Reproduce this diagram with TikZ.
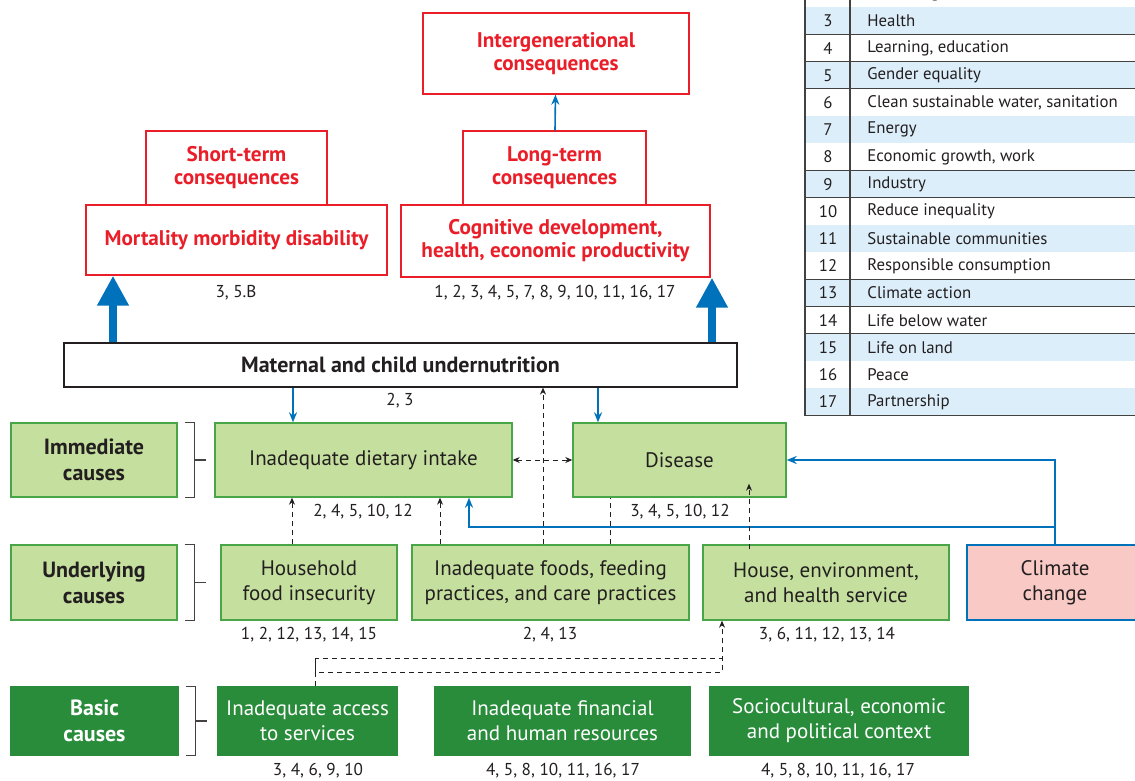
\documentclass[tikz,border=0pt]{standalone}
\usepackage{fontspec}
\setmainfont{PT Sans}
\usetikzlibrary{arrows.meta}

\definecolor{sdgred}{RGB}{234,30,40}
\definecolor{sdgblue}{RGB}{0,114,188}
\definecolor{ink}{RGB}{35,31,32}
\definecolor{paleg}{RGB}{197,224,158}
\definecolor{edgeg}{RGB}{72,165,72}
\definecolor{darkg}{RGB}{40,140,58}
\definecolor{pinkc}{RGB}{248,201,197}
\definecolor{rowblue}{RGB}{220,238,250}

\begin{document}
\begin{tikzpicture}[x=0.5pt,y=-0.5pt,
  every node/.style={font=\fontsize{10.5}{12.5}\selectfont, text=ink, align=center, inner sep=0pt},
  conseq/.style={draw=sdgred, fill=white, line width=0.7pt, text=sdgred, font=\fontsize{10.6}{11.5}\selectfont\bfseries},
  imm/.style={draw=edgeg, fill=paleg, line width=0.7pt},
  basic/.style={draw=darkg, fill=darkg, text=white, line width=0.7pt},
  tag/.style={font=\fontsize{11}{13}\selectfont\bfseries},
  sdgs/.style={font=\fontsize{8.6}{10}\selectfont},
  tabtext/.style={font=\fontsize{8.4}{10}\selectfont},
  tabline/.style={draw=ink!85, line width=0.6pt},
  bigarrow/.style={draw=sdgblue, line width=4pt, -{Triangle[width=15pt,length=15pt]}},
  bluearrow/.style={draw=sdgblue, line width=0.8pt, -{Stealth[length=5pt,width=4pt]}},
  blueline/.style={draw=sdgblue, line width=0.8pt},
  dashline/.style={draw=ink, line width=0.5pt, dash pattern=on 2.5pt off 2pt},
  dasharrow/.style={dashline, -{Stealth[length=3.5pt,width=3pt]}}
]
\useasboundingbox (0,0) rectangle (1135,781);
\clip (0,0) rectangle (1135,781);

\foreach \n/\t [count=\i from 0] in {2/Zero hunger,3/Health,4/{Learning, education},5/Gender equality,6/{Clean sustainable water, sanitation},7/Energy,8/{Economic growth, work},9/Industry,10/Reduce inequality,11/Sustainable communities,12/Responsible consumption,13/Climate action,14/Life below water,15/Life on land,16/Peace,17/Partnership}{
  \pgfmathsetmacro\ytop{-19.7+27.2*\i}
  \ifodd\n \def\rowfill{rowblue}\else \def\rowfill{white}\fi
  \fill[\rowfill] (805,\ytop) rectangle (1140,\ytop+27.2);
  \draw[tabline] (805,\ytop+27.2) -- (1140,\ytop+27.2);
  \node[tabtext] (num\n) at (828,\ytop+13.6) {\n};
  \node[tabtext, anchor=west] (sdg\n) at (867,\ytop+13.6) {\t};
}
\draw[tabline] (805,-20) -- (805,415.5) (850,-20) -- (850,415.5);

\node[conseq, minimum width=133pt, minimum height=40.5pt] (inter) at (556,53.5) {Intergenerational\\consequences};
\node[conseq, minimum width=90.5pt, minimum height=37pt] (short) at (236.5,168) {Short-term\\consequences};
\node[conseq, minimum width=91.5pt, minimum height=37pt] (long) at (554.5,168) {Long-term\\consequences};
\node[conseq, minimum width=150.5pt, minimum height=35pt] (mort) at (236.5,240) {Mortality morbidity disability};
\node[conseq, minimum width=154.5pt, minimum height=36pt] (cog) at (555.5,241) {Cognitive development,\\health, economic productivity};
\node[sdgs] (lmort) at (236,293) {3, 5.B};
\node[sdgs] (lcog) at (555,293) {1, 2, 3, 4, 5, 7, 8, 9, 10, 11, 16, 17};

\node[draw=ink, line width=0.6pt, fill=white, minimum width=336.5pt, minimum height=22pt, tag] (mat) at (400.5,365) {Maternal and child undernutrition};
\node[sdgs] (lmat) at (400,401) {2, 3};

\node[imm, tag, minimum width=83pt, minimum height=37pt] (immc) at (94,460) {Immediate\\causes};
\node[imm, minimum width=148.5pt, minimum height=37pt] (diet) at (363.5,460) {Inadequate dietary intake};
\node[imm, minimum width=106.5pt, minimum height=37pt] (dis) at (679.5,460) {Disease};
\node[sdgs] (ldiet) at (363,512) {2, 4, 5, 10, 12};
\node[sdgs] (ldis) at (680,512) {3, 4, 5, 10, 12};

\node[imm, tag, minimum width=83pt, minimum height=37.5pt] (undc) at (94,582.5) {Underlying\\causes};
\node[imm, minimum width=88pt, minimum height=37.5pt] (hh) at (309,582.5) {Household\\food insecurity};
\node[imm, minimum width=138.5pt, minimum height=37.5pt] (foods) at (550.5,582.5) {Inadequate foods, feeding\\practices, and care practices};
\node[imm, minimum width=123pt, minimum height=37.5pt] (house) at (826,582.5) {House, environment,\\and health service};
\node[draw=sdgblue, fill=pinkc, line width=0.7pt, minimum width=88pt, minimum height=37.5pt] (clim) at (1055,582.5) {Climate\\change};
\node[sdgs] (lhh) at (309,635) {1, 2, 12, 13, 14, 15};
\node[sdgs] (lfoods) at (550,635) {2, 4, 13};
\node[sdgs] (lhouse) at (827,635) {3, 6, 11, 12, 13, 14};

\node[basic, tag, minimum width=83.5pt, minimum height=34pt] (basc) at (94.5,721) {Basic\\causes};
\node[basic, minimum width=89.5pt, minimum height=34pt] (acc) at (307.5,721) {Inadequate access\\to services};
\node[basic, minimum width=127.5pt, minimum height=34pt] (fin) at (562.5,721) {Inadequate financial\\and human resources};
\node[basic, minimum width=129pt, minimum height=34pt] (soc) at (839,721) {Sociocultural, economic\\and political context};
\node[sdgs] (lacc) at (318,771) {3, 4, 6, 9, 10};
\node[sdgs] (lfin) at (563,771) {4, 5, 8, 10, 11, 16, 17};
\node[sdgs] (lsoc) at (838,771) {4, 5, 8, 10, 11, 16, 17};

\foreach \b in {immc,undc,basc}{
  \draw[ink!85, line width=0.6pt] ([xshift=3.5pt]\b.north east) -- ([xshift=8.5pt]\b.north east)
    -- ([xshift=8.5pt]\b.south east) -- ([xshift=3.5pt]\b.south east);
  \draw[ink!85, line width=0.6pt] ([xshift=8.5pt]\b.east) -- ([xshift=14pt]\b.east);
}

\draw[bigarrow] (mat.north -| 113,0) -- (mort.south -| 113,0);
\draw[bigarrow] (mat.north -| 712,0) -- (cog.south -| 712,0);
\draw[bluearrow] (long) -- (inter);
\draw[bluearrow] (mat.south -| 293,0) -- (diet.north -| 293,0);
\draw[bluearrow] (mat.south -| 598,0) -- (dis.north -| 598,0);
\draw[bluearrow] (clim.north) |- (dis.east);
\draw[bluearrow] (clim.north |- 0,527) -| (diet.south -| 469,0);

\draw[dashline, {Stealth[length=3.5pt,width=3pt]}-{Stealth[length=3.5pt,width=3pt]}] (diet) -- (dis);
\draw[dasharrow] (foods.north -| 543,0) -- (mat.south -| 543,0);
\draw[dasharrow] (hh.north -| 292,0) -- (diet.south -| 292,0);
\draw[dasharrow] (foods.north -| 440,0) -- (diet.south -| 440,0);
\draw[dashline] (foods.north -| 610,0) -- (dis.south -| 610,0);
\draw[dasharrow] ([yshift=-2.5pt]house.north -| 749,0) -- ([yshift=7pt]dis.south -| 749,0);
\draw[dasharrow] (acc.north -| 315,0) |- (722,658) -- (house.south -| 722,0);
\draw[dashline] (315,658) |- (722,672) -- (722,658);
\end{tikzpicture}
\end{document}
